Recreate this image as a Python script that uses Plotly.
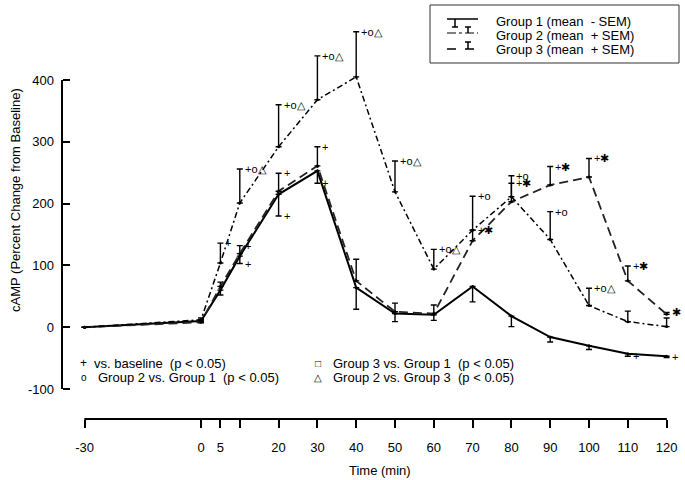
import plotly.graph_objects as go

# ---------------- data ----------------
times = [-30, 0, 5, 10, 20, 30, 40, 50, 60, 70, 80, 90, 100, 110, 120]

g1_mean = [0, 10, 60, 115, 215, 253, 64, 22, 20, 66, 18, -16, -30, -43, -47]
g1_sem = [0, 3, 8, 12, 35, 20, 35, 13, 9, 25, 17, 8, 6, 4, 2]

g2_mean = [0, 12, 104, 201, 292, 368, 405, 219, 94, 157, 211, 142, 35, 9, 1]
g2_sem = [0, 3, 32, 55, 68, 71, 73, 50, 32, 55, 34, 45, 28, 17, 14]

g3_mean = [0, 8, 66, 119, 220, 261, 75, 25, 22, 140, 203, 230, 243, 75, 21]
g3_sem = [0, 2, 7, 13, 29, 31, 35, 14, 14, 17, 30, 30, 30, 24, 3]

g1_sig = ['', '', '', '+', '+', '+', '', '', '', '', '', '', '', '+', '+']
g2_sig = ['', '', '+', '+o△', '+o△', '+o△', '+o△', '+o△', '+o△', '+o', '+o', '+o', '+o△', '', '']
g3_sig = ['', '', '', '+', '+', '+', '', '', '', '+✱', '+✱', '+✱', '+✱', '+✱', '✱']

x_tickvals = [-30, 0, 5, 10, 20, 30, 40, 50, 60, 70, 80, 90, 100, 110, 120]
x_ticktext = ['-30', '0', '5', '', '20', '30', '40', '50', '60', '70', '80', '90', '100', '110', '120']
y_tickvals = [-100, 0, 100, 200, 300, 400]
y_ticktext = ['-100', '0', '100', '200', '300', '400']

legend_labels = ['Group 1 (mean  - SEM)', 'Group 2 (mean  + SEM)', 'Group 3 (mean  + SEM)']
sig_legend = [('+', 'vs. baseline  (p < 0.05)'), ('o', 'Group 2 vs. Group 1  (p < 0.05)'),
              ('□', 'Group 3 vs. Group 1  (p < 0.05)'), ('△', 'Group 2 vs. Group 3  (p < 0.05)')]

# ---------------- layout geometry ----------------
W, H = 685, 480
ML, MR, MT, MB = 56, 10, 10, 55
PW, PH = W - ML - MR, H - MT - MB
FONT = 'Liberation Sans, Arial, Helvetica, sans-serif'

YAXIS_PX = 62.0     # pixel x of the vertical axis line
XAXIS_PX = 419.0    # pixel y of the horizontal axis line


def px(x):
    return (x - ML) / PW


def py(y):
    return (H - MB - y) / PH


# axis scaling
x_lo_px, x_hi_px = 84.6, 666.6          # pixel positions of -30 and 120
x_scale = (x_hi_px - x_lo_px) / (x_tickvals[-1] - x_tickvals[0])
x_min = x_tickvals[0] - (x_lo_px - ML) / x_scale
x_max = x_tickvals[-1] + (ML + PW - x_hi_px) / x_scale
y_scale = 0.618                          # px per unit
y_m100_px = 389.0
y_top_px = y_m100_px - (y_tickvals[-1] - y_tickvals[0]) * y_scale
y_min = y_tickvals[0] - (H - MB - y_m100_px) / y_scale
y_max = y_tickvals[0] + (y_m100_px - MT) / y_scale

yaxis_line_x = x_tickvals[0] - (x_lo_px - YAXIS_PX) / x_scale
xaxis_line_y = y_tickvals[0] - (XAXIS_PX - y_m100_px) / y_scale

fig = go.Figure()

# axis lines restricted to -30..120 and -100..400 (drawn as line traces)
fig.add_trace(go.Scatter(x=[x_tickvals[0], x_tickvals[-1]], y=[xaxis_line_y, xaxis_line_y],
                         mode='lines', line=dict(color='black', width=2),
                         showlegend=False, hoverinfo='skip'))
fig.add_trace(go.Scatter(x=[yaxis_line_x, yaxis_line_x], y=[y_tickvals[0], y_tickvals[-1]],
                         mode='lines', line=dict(color='black', width=2),
                         showlegend=False, hoverinfo='skip'))

# Group 1: solid, error downward
fig.add_trace(go.Scatter(
    x=times, y=g1_mean, mode='lines+markers',
    line=dict(color='black', width=2, dash='solid'),
    marker=dict(size=3, color='black'),
    error_y=dict(type='data', symmetric=False, array=[0] * len(times), arrayminus=g1_sem,
                 color='black', thickness=1.4, width=3),
    showlegend=False))

# Group 3: dashed, error upward
fig.add_trace(go.Scatter(
    x=times, y=g3_mean, mode='lines+markers',
    line=dict(color='#222', width=1.8, dash='9px,5px'),
    marker=dict(size=3, color='black'),
    error_y=dict(type='data', symmetric=False, array=g3_sem, arrayminus=[0] * len(times),
                 color='black', thickness=1.4, width=3),
    showlegend=False))

# Group 2: dash-dot, error upward
fig.add_trace(go.Scatter(
    x=times, y=g2_mean, mode='lines+markers',
    line=dict(color='black', width=1.5, dash='6px,3px,2px,3px'),
    marker=dict(size=3, color='black'),
    error_y=dict(type='data', symmetric=False, array=g2_sem, arrayminus=[0] * len(times),
                 color='black', thickness=1.4, width=3),
    showlegend=False))

annotations = []
# significance labels
for means, sems, sigs, sign in ((g2_mean, g2_sem, g2_sig, 1), (g3_mean, g3_sem, g3_sig, 1),
                                (g1_mean, g1_sem, g1_sig, -1)):
    for t, m, s, lab in zip(times, means, sems, sigs):
        if lab:
            annotations.append(dict(x=t, y=m + sign * s, xref='x', yref='y', text=lab, showarrow=False,
                                    xanchor='left', yanchor='middle', xshift=3,
                                    font=dict(size=11, family=FONT, color='black')))

# axis titles
annotations.append(dict(x=px(380), y=py(470), xref='paper', yref='paper', text='Time (min)',
                        showarrow=False, xanchor='center', yanchor='middle',
                        font=dict(size=13, family=FONT, color='black')))
annotations.append(dict(x=px(15), y=py(200), xref='paper', yref='paper',
                        text='cAMP (Percent Change from Baseline)', textangle=-90,
                        showarrow=False, xanchor='center', yanchor='middle',
                        font=dict(size=13, family=FONT, color='black')))

# top-right legend texts
for i, lab in enumerate(legend_labels):
    annotations.append(dict(x=px(494), y=py(21.5 + 14 * i), xref='paper', yref='paper', text=lab,
                            showarrow=False, xanchor='left', yanchor='middle',
                            font=dict(size=13, family=FONT, color='black')))

# bottom significance legend
sig_pos = [(83, 92, 363), (84, 96, 377), (318, 331, 363), (318, 331, 377)]
for (sym, txt), (xs, xt, yy) in zip(sig_legend, sig_pos):
    annotations.append(dict(x=px(xs), y=py(yy), xref='paper', yref='paper', text=sym,
                            showarrow=False, xanchor='center', yanchor='middle',
                            font=dict(size=10 if sym != '+' else 12, family=FONT, color='black')))
    annotations.append(dict(x=px(xt), y=py(yy), xref='paper', yref='paper', text=txt,
                            showarrow=False, xanchor='left', yanchor='middle',
                            font=dict(size=13, family=FONT, color='black')))

shapes = []
# axis lines as thin filled paper rectangles
shapes.append(dict(type='rect', xref='paper', yref='paper', layer='above',
                   x0=px(x_lo_px), x1=px(x_hi_px), y0=py(XAXIS_PX + 1), y1=py(XAXIS_PX - 1),
                   line=dict(width=0), fillcolor='black'))
shapes.append(dict(type='rect', xref='paper', yref='paper', layer='above',
                   x0=px(YAXIS_PX - 1), x1=px(YAXIS_PX + 1), y0=py(y_m100_px), y1=py(y_top_px),
                   line=dict(width=0), fillcolor='black'))
# legend box
shapes.append(dict(type='rect', xref='paper', yref='paper', x0=px(430), x1=px(679), y0=py(63), y1=py(5),
                   line=dict(color='#333', width=1), fillcolor='rgba(0,0,0,0)'))
# legend samples
ln = dict(color='black', width=1.5)
# group 1: solid with downward bar
shapes.append(dict(type='line', xref='paper', yref='paper', x0=px(447), x1=px(478), y0=py(19), y1=py(19), line=ln))
shapes.append(dict(type='line', xref='paper', yref='paper', x0=px(455), x1=px(455), y0=py(19), y1=py(27), line=ln))
shapes.append(dict(type='line', xref='paper', yref='paper', x0=px(452), x1=px(458), y0=py(27), y1=py(27), line=ln))
# group 2: dash-dot with upward bar
shapes.append(dict(type='line', xref='paper', yref='paper', x0=px(447), x1=px(478), y0=py(33), y1=py(33),
                   line=dict(color='black', width=1.2, dash='dashdot')))
shapes.append(dict(type='line', xref='paper', yref='paper', x0=px(468), x1=px(468), y0=py(33), y1=py(27), line=ln))
shapes.append(dict(type='line', xref='paper', yref='paper', x0=px(465), x1=px(471), y0=py(27), y1=py(27), line=ln))
# group 3: dashed with upward bar
shapes.append(dict(type='line', xref='paper', yref='paper', x0=px(447), x1=px(478), y0=py(49), y1=py(49),
                   line=dict(color='black', width=1.5, dash='dash')))
shapes.append(dict(type='line', xref='paper', yref='paper', x0=px(468), x1=px(468), y0=py(49), y1=py(42), line=ln))
shapes.append(dict(type='line', xref='paper', yref='paper', x0=px(465), x1=px(471), y0=py(42), y1=py(42), line=ln))

tickfont = dict(size=13, family=FONT, color='black')
fig.update_layout(
    width=W, height=H,
    margin=dict(l=ML, r=MR, t=MT, b=MB, autoexpand=False),
    paper_bgcolor='white', plot_bgcolor='white',
    font=dict(family=FONT, size=13, color='black'),
    showlegend=False,
    xaxis=dict(domain=[0, 1], range=[x_min, x_max], anchor='free', position=py(XAXIS_PX),
               showline=False, showgrid=False, zeroline=False, automargin=False,
               tickmode='array', tickvals=x_tickvals, ticktext=x_ticktext,
               ticks='outside', ticklen=8, tickwidth=2, tickcolor='black',
               ticklabelstandoff=8, tickfont=tickfont),
    yaxis=dict(domain=[0, 1], range=[y_min, y_max], anchor='free', position=px(YAXIS_PX),
               showline=False, showgrid=False, zeroline=False, automargin=False,
               tickmode='array', tickvals=y_tickvals, ticktext=y_ticktext,
               ticks='inside', ticklen=7, tickwidth=2, tickcolor='black',
               ticklabelstandoff=8, tickfont=tickfont),
    annotations=annotations,
    shapes=shapes,
)

fig.write_html('out.html', config={'displayModeBar': False, 'staticPlot': True},
               post_script="document.body.style.margin='0';document.body.style.overflow='hidden';")
